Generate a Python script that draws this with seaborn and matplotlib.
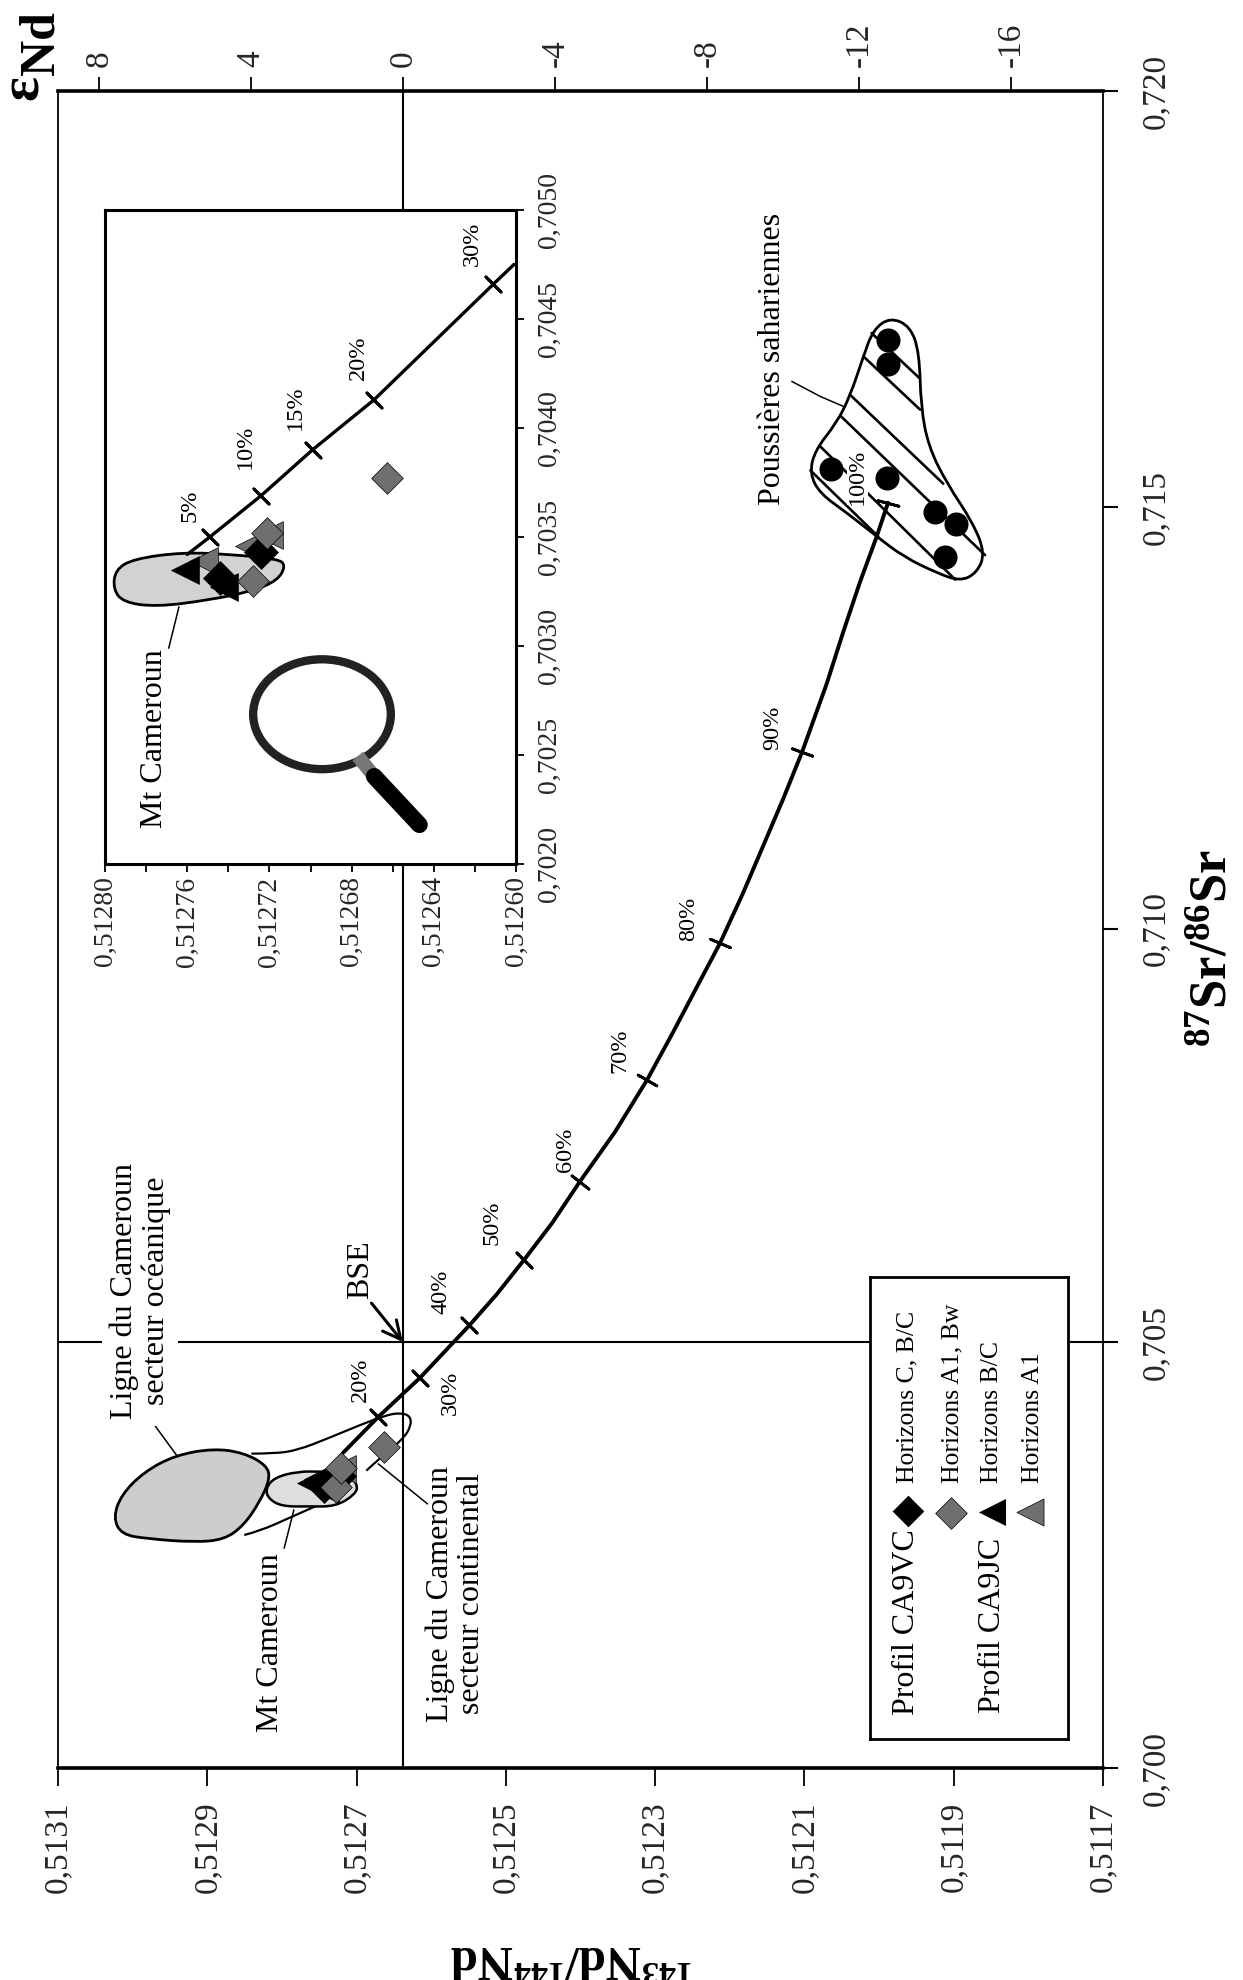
import numpy as np
import matplotlib
matplotlib.use('Agg')
import matplotlib.pyplot as plt
import seaborn as sns
from matplotlib.patches import Ellipse, PathPatch
from matplotlib.path import Path

W, H = 1243, 1980

# mixing curve, main diagram
curve_nd = [0.512718, 0.512671, 0.512615, 0.512549, 0.512512, 0.512476, 0.512438, 0.512401, 0.512354, 0.512311, 0.512276, 0.512244, 0.512213, 0.512182, 0.512156, 0.512129, 0.512103, 0.512070, 0.512048, 0.512026, 0.512004, 0.511988]
curve_sr = [0.70370, 0.70412, 0.70458, 0.70520, 0.70558, 0.70599, 0.70644, 0.70694, 0.70754, 0.70817, 0.70875, 0.70930, 0.70983, 0.71043, 0.71097, 0.71153, 0.71210, 0.71291, 0.71352, 0.71410, 0.71463, 0.71505]
mix_nd = [0.512671, 0.512615, 0.512549, 0.512476, 0.512401, 0.512311, 0.512213, 0.512103, 0.511988]
mix_sr = [0.70412, 0.70458, 0.70520, 0.70599, 0.70694, 0.70817, 0.70983, 0.71210, 0.71505]
mix_angle = [45, 45, 45, 45, 52, 60, 67, 70, 75]

# mixing curve, inset
zoom_curve_nd = [0.512760, 0.512749, 0.512724, 0.512699, 0.512669, 0.512611, 0.512601]
zoom_curve_sr = [0.70342, 0.70350, 0.70369, 0.70390, 0.70413, 0.70466, 0.70475]
zoom_mix_nd = [0.512749, 0.512724, 0.512699, 0.512669, 0.512611]
zoom_mix_sr = [0.70350, 0.70369, 0.70390, 0.70413, 0.70466]

# samples
vc_bc_nd = [0.512744, 0.512724]
vc_bc_sr = [0.70331, 0.70343]
vc_a1_nd = [0.512728, 0.512721, 0.512663]
vc_a1_sr = [0.70330, 0.70352, 0.70377]
jc_bc_nd = [0.512761, 0.512742]
jc_bc_sr = [0.70335, 0.70327]
jc_a1_nd = [0.512752, 0.512730, 0.512720]
jc_a1_sr = [0.70339, 0.70346, 0.70351]
dust_nd = [0.511988, 0.511988, 0.512064, 0.511989, 0.511925, 0.511897, 0.511912]
dust_sr = [0.71701, 0.71672, 0.71546, 0.71535, 0.71494, 0.71480, 0.71441]

# fields
dust_field_nd = [0.511985, 0.511958, 0.511946, 0.511944, 0.511934, 0.511909, 0.511874, 0.511858, 0.511869, 0.511891, 0.511923, 0.511967, 0.512003, 0.512043, 0.512079, 0.512093, 0.512086, 0.512057, 0.512039, 0.512021, 0.512008]
dust_field_sr = [0.71728, 0.71717, 0.71685, 0.71621, 0.71573, 0.71528, 0.71481, 0.71445, 0.71422, 0.71412, 0.71422, 0.71441, 0.71465, 0.71493, 0.71516, 0.71540, 0.71568, 0.71601, 0.71633, 0.71681, 0.71713]
ocean_nd = [0.512943, 0.512892, 0.512851, 0.512820, 0.512816, 0.512830, 0.512851, 0.512877, 0.512918, 0.512979, 0.513015, 0.513026, 0.513015, 0.512984]
ocean_sr = [0.70367, 0.70375, 0.70370, 0.70355, 0.70339, 0.70312, 0.70285, 0.70268, 0.70265, 0.70269, 0.70274, 0.70294, 0.70321, 0.70348]
mt_nd = [0.512810, 0.512779, 0.512748, 0.512712, 0.512698, 0.512702, 0.512728, 0.512764, 0.512800, 0.512818, 0.512822]
mt_sr = [0.70341, 0.70348, 0.70348, 0.70346, 0.70332, 0.70321, 0.70307, 0.70307, 0.70307, 0.70316, 0.70328]
cont_up_nd = [0.512841, 0.512810, 0.512779, 0.512738, 0.512697, 0.512661, 0.512641, 0.512628, 0.512627, 0.512636, 0.512656, 0.512677, 0.512697]
cont_up_sr = [0.70369, 0.70369, 0.70373, 0.70387, 0.70402, 0.70414, 0.70417, 0.70413, 0.70402, 0.70388, 0.70373, 0.70357, 0.70341]
cont_low_nd = [0.512753, 0.512789, 0.512830, 0.512871]
cont_low_sr = [0.70308, 0.70294, 0.70278, 0.70269]
zoom_mt_nd = [0.512795, 0.512786, 0.512762, 0.512739, 0.512716, 0.512712, 0.512716, 0.512729, 0.512750, 0.512775, 0.512791, 0.512796]
zoom_mt_sr = [0.70335, 0.70340, 0.70343, 0.70342, 0.70340, 0.70337, 0.70330, 0.70325, 0.70321, 0.70318, 0.70320, 0.70326]

# hatching of the dust field: start and end of each stripe
stripes_nd = [(0.512010, 0.511946), (0.512021, 0.511945), (0.512039, 0.511914), (0.512051, 0.511858), (0.512079, 0.511898), (0.512092, 0.512001)]
stripes_sr = [(0.71709, 0.71655), (0.71681, 0.71617), (0.71635, 0.71528), (0.71609, 0.71443), (0.71573, 0.71414), (0.71544, 0.71465)]

# leader lines
leaders_nd = [(0.512117, 0.512079, 0.512048), (0.512977, 0.512941), (0.512784, 0.512797), (0.512671, 0.512605)]
leaders_sr = [(0.71651, 0.71633, 0.71621), (0.70410, 0.70367), (0.70303, 0.70258), (0.70357, 0.70310)]
zoom_leader_nd = [0.512764, 0.512769]
zoom_leader_sr = [0.70318, 0.70299]

bse_nd, bse_sr = 0.512638, 0.705

nd_ticks = [0.5131, 0.5129, 0.5127, 0.5125, 0.5123, 0.5121, 0.5119, 0.5117]
nd_labels = ['0,5131', '0,5129', '0,5127', '0,5125', '0,5123', '0,5121', '0,5119', '0,5117']
sr_ticks = [0.700, 0.705, 0.710, 0.715, 0.720]
sr_labels = ['0,700', '0,705', '0,710', '0,715', '0,720']
eps_ticks = [8, 4, 0, -4, -8, -12, -16]
eps_labels = ['8', '4', '0', '-4', '-8', '-12', '-16']
zoom_nd_ticks = [0.51280, 0.51276, 0.51272, 0.51268, 0.51264, 0.51260]
zoom_nd_minor = [0.51278, 0.51274, 0.51270, 0.51266, 0.51262]
zoom_nd_labels = ['0,51280', '0,51276', '0,51272', '0,51268', '0,51264', '0,51260']
zoom_sr_ticks = [0.7020, 0.7025, 0.7030, 0.7035, 0.7040, 0.7045, 0.7050]
zoom_sr_labels = ['0,7020', '0,7025', '0,7030', '0,7035', '0,7040', '0,7045', '0,7050']

# the scanned Sr axis is a little uneven, these are the tick spacings on the page
sr_page = [0, 426, 839, 1261, 1677]

sns.set_style('white')
plt.rcParams['font.family'] = ['Liberation Serif', 'DejaVu Sans']
plt.rcParams['mathtext.fontset'] = 'custom'
plt.rcParams['mathtext.rm'] = 'Liberation Serif'
plt.rcParams['mathtext.bf'] = 'Liberation Serif:bold'

fig = plt.figure(figsize=(W / 100, H / 100), dpi=100, facecolor='white')


def axes_px(left, top, right, bottom):
    return fig.add_axes([left / W, 1 - bottom / H, (right - left) / W, (bottom - top) / H])


def label(x, y, s, size=23, rotation=90, ha='center', va='center', **kw):
    return fig.text(x / W, 1 - y / H, s, fontsize=size, rotation=rotation, ha=ha, va=va, color='black', **kw)


def blob(xs, ys, **kw):
    pts = np.column_stack([xs, ys])
    mids = (pts + np.roll(pts, -1, axis=0)) / 2
    verts = [mids[-1]]
    codes = [Path.MOVETO]
    for p, m in zip(pts, mids):
        verts += [p, m]
        codes += [Path.CURVE3, Path.CURVE3]
    return PathPatch(Path(verts, codes), **kw)


def open_curve(xs, ys, **kw):
    pts = np.column_stack([xs, ys])
    mids = (pts[1:-1] + pts[2:]) / 2
    verts = [pts[0]]
    codes = [Path.MOVETO]
    for p, m in zip(pts[1:-1], mids):
        verts += [p, m]
        codes += [Path.CURVE3, Path.CURVE3]
    return PathPatch(Path(verts, codes), fc='none', ec='black', **kw)


def line(ax, xs, ys, lw):
    sns.lineplot(x=list(xs), y=list(ys), ax=ax, color='black', lw=lw, sort=False, estimator=None, legend=False)


def samples(ax):
    gray = '#6f6f6f'
    sns.scatterplot(x=jc_a1_nd, y=jc_a1_sr, ax=ax, marker='<', s=400, color=gray, edgecolor='black', linewidth=0.5, zorder=5)
    sns.scatterplot(x=jc_bc_nd, y=jc_bc_sr, ax=ax, marker='<', s=400, color='black', edgecolor='black', linewidth=0.5, zorder=5)
    sns.scatterplot(x=vc_bc_nd, y=vc_bc_sr, ax=ax, marker='D', s=300, color='black', edgecolor='black', linewidth=0.5, zorder=6)
    sns.scatterplot(x=vc_a1_nd, y=vc_a1_sr, ax=ax, marker='D', s=260, color=gray, edgecolor='black', linewidth=0.5, zorder=6)


# main diagram
ax = axes_px(58, 91, 1103, 1768)
ax.set_facecolor('white')
ax.set_yscale('function', functions=(lambda v: np.interp(v, sr_ticks, sr_page),
                                     lambda p: np.interp(p, sr_page, sr_ticks)))
ax.axvline(bse_nd, color='black', lw=1.5, zorder=1)
ax.axhline(bse_sr, color='black', lw=1.5, zorder=1)

ax.add_patch(blob(ocean_nd, ocean_sr, fc='#cdcdcd', ec='black', lw=2.0, zorder=3))
ax.add_patch(blob(mt_nd, mt_sr, fc='#dedede', ec='black', lw=1.8, zorder=3))
ax.add_patch(open_curve(cont_up_nd, cont_up_sr, lw=1.6, zorder=2))
ax.add_patch(open_curve(cont_low_nd, cont_low_sr, lw=1.6, zorder=2))
for xs, ys in zip(leaders_nd, leaders_sr):
    line(ax, xs, ys, 1.1)

ax.add_patch(blob(dust_field_nd, dust_field_sr, fc='white', ec='black', lw=2.0, zorder=2))
for xs, ys in zip(stripes_nd, stripes_sr):
    line(ax, xs, ys, 1.9)

line(ax, curve_nd, curve_sr, 2.8)
for x, y, a in zip(mix_nd, mix_sr, mix_angle):
    sns.scatterplot(x=[x], y=[y], ax=ax, marker=(2, 2, a), s=240, color='black', linewidth=2.0, zorder=4)
sns.scatterplot(x=dust_nd, y=dust_sr, ax=ax, s=300, color='black', edgecolor='black', linewidth=0, zorder=5)
samples(ax)

ax.annotate('', xy=(bse_nd, bse_sr), xytext=(0.51268, 0.70547),
            arrowprops=dict(arrowstyle='->', color='black', lw=2.2, mutation_scale=32, shrinkA=0, shrinkB=0), zorder=6)

ax.set_xlim(0.5131, 0.5117)
ax.set_ylim(0.700, 0.720)
ax.set_xlabel('')
ax.set_ylabel('')
ax.set_xticks(nd_ticks)
ax.set_xticklabels(nd_labels, rotation=90, fontsize=24)
ax.set_yticks(sr_ticks)
ax.set_yticklabels(sr_labels, rotation=90, fontsize=24, va='center')
ax.yaxis.tick_right()
ax.tick_params(axis='x', bottom=True, direction='out', length=13, width=1.3, pad=11, color='black')
ax.tick_params(axis='y', right=True, left=False, direction='out', length=11, width=1.5, pad=16, color='black')
for side, lw in [('top', 2.6), ('bottom', 2.6), ('left', 1.3), ('right', 1.3)]:
    ax.spines[side].set_linewidth(lw)
    ax.spines[side].set_color('black')

eps = ax.twiny()
eps.set_xlim(9.08, -18.42)
eps.set_xticks(eps_ticks)
eps.set_xticklabels(eps_labels, rotation=90, fontsize=24)
eps.tick_params(axis='x', top=True, direction='out', length=10, width=1.3, pad=7, color='black')
for s in eps.spines.values():
    s.set_visible(False)

# inset
axz = axes_px(105, 210, 516, 864)
axz.set_zorder(2)
axz.set_facecolor('white')
axz.add_patch(blob(zoom_mt_nd, zoom_mt_sr, fc='#d2d2d2', ec='black', lw=2.0, zorder=2))
line(axz, zoom_curve_nd, zoom_curve_sr, 2.4)
sns.scatterplot(x=zoom_mix_nd, y=zoom_mix_sr, ax=axz, marker=(2, 2, 45), s=240, color='black', linewidth=2.0, zorder=4)
line(axz, zoom_leader_nd, zoom_leader_sr, 1.1)
samples(axz)

# magnifying glass
axz.add_patch(Ellipse((0.528, 0.229), 0.335, 0.168, transform=axz.transAxes, fc='white', ec='#222222', lw=6, zorder=3))
axz.plot([0.615, 0.655], [0.165, 0.134], transform=axz.transAxes, color='#777777', lw=10, solid_capstyle='butt', zorder=3)
axz.plot([0.655, 0.765], [0.134, 0.060], transform=axz.transAxes, color='black', lw=12, solid_capstyle='round', zorder=3)

axz.set_xlim(0.51280, 0.51260)
axz.set_ylim(0.7020, 0.7050)
axz.set_xlabel('')
axz.set_ylabel('')
axz.set_xticks(zoom_nd_ticks)
axz.set_xticks(zoom_nd_minor, minor=True)
axz.set_xticklabels(zoom_nd_labels, rotation=90, fontsize=20)
axz.set_yticks(zoom_sr_ticks)
axz.set_yticklabels(zoom_sr_labels, rotation=90, fontsize=20, va='center')
axz.yaxis.tick_right()
axz.tick_params(axis='x', which='both', bottom=True, direction='out', length=6, width=1.3, pad=3, color='black')
axz.tick_params(axis='y', right=True, left=False, direction='out', length=6, width=1.3, pad=9, color='black')
for s in axz.spines.values():
    s.set_linewidth(2.2)
    s.set_color('black')

# legend box, drawn on its own page-sized axes
axl = axes_px(870, 1277, 1068, 1739)
axl.set_zorder(2)
axl.set_facecolor('white')
sns.scatterplot(x=[908], y=[1511], ax=axl, marker='D', s=260, color='black', linewidth=0)
sns.scatterplot(x=[951], y=[1513], ax=axl, marker='D', s=260, color='#6f6f6f', edgecolor='black', linewidth=0.5)
sns.scatterplot(x=[992], y=[1512], ax=axl, marker='<', s=380, color='black', linewidth=0)
sns.scatterplot(x=[1030], y=[1512], ax=axl, marker='<', s=380, color='#6f6f6f', edgecolor='black', linewidth=0.5)
axl.set_xlim(870, 1068)
axl.set_ylim(1739, 1277)
axl.set_xticks([])
axl.set_yticks([])
axl.set_xlabel('')
axl.set_ylabel('')
for s in axl.spines.values():
    s.set_linewidth(2.0)
    s.set_color('black')

label(907, 1715, 'Profil CA9VC', va='bottom')
label(907, 1483, 'Horizons C, B/C', size=18.5, va='bottom')
label(952, 1483, 'Horizons A1, Bw', size=18.5, va='bottom')
label(993, 1713, 'Profil CA9JC', va='bottom')
label(992, 1483, 'Horizons B/C', size=18.5, va='bottom')
label(1033, 1483, 'Horizons A1', size=18.5, va='bottom')

# annotations
white = dict(fc='white', ec='none', pad=0)
label(140, 1291, 'Ligne du Cameroun\nsecteur océanique', linespacing=1.1, multialignment='center',
      bbox=dict(fc='white', ec='none', pad=5))
label(456, 1594, 'Ligne du Cameroun\nsecteur continental', linespacing=1.1, multialignment='center')
label(270, 1643, 'Mt Cameroun')
label(155, 739, 'Mt Cameroun', zorder=5)
label(361, 1270, 'BSE')
label(773, 359, 'Poussières sahariennes')

pct = 17.5
for x, y, s in [(360, 1380, '20%'), (450, 1393, '30%'), (441, 1292, '40%'), (492, 1223, '50%'),
                (565, 1150, '60%'), (620, 1051, '70%'), (689, 919, '80%'), (773, 728, '90%')]:
    label(x, y, s, size=pct)
label(857, 477, '100%', size=pct, bbox=white)
for x, y, s in [(190, 506, '5%'), (245, 447, '10%'), (295, 408, '15%'), (358, 358, '20%'), (472, 244, '30%')]:
    label(x, y, s, size=pct, zorder=5)

# axis titles
label(24, 88, 'ε', size=42, fontweight='bold')
label(42, 43, 'Nd', size=36, fontweight='bold')
label(1214, 948, r'$\mathbf{^{87}Sr/^{86}Sr}$', size=38)
label(572, 1957, r'$\mathbf{^{143}Nd/^{144}Nd}$', size=35, rotation=180)

fig.savefig('out.png', dpi=100)
